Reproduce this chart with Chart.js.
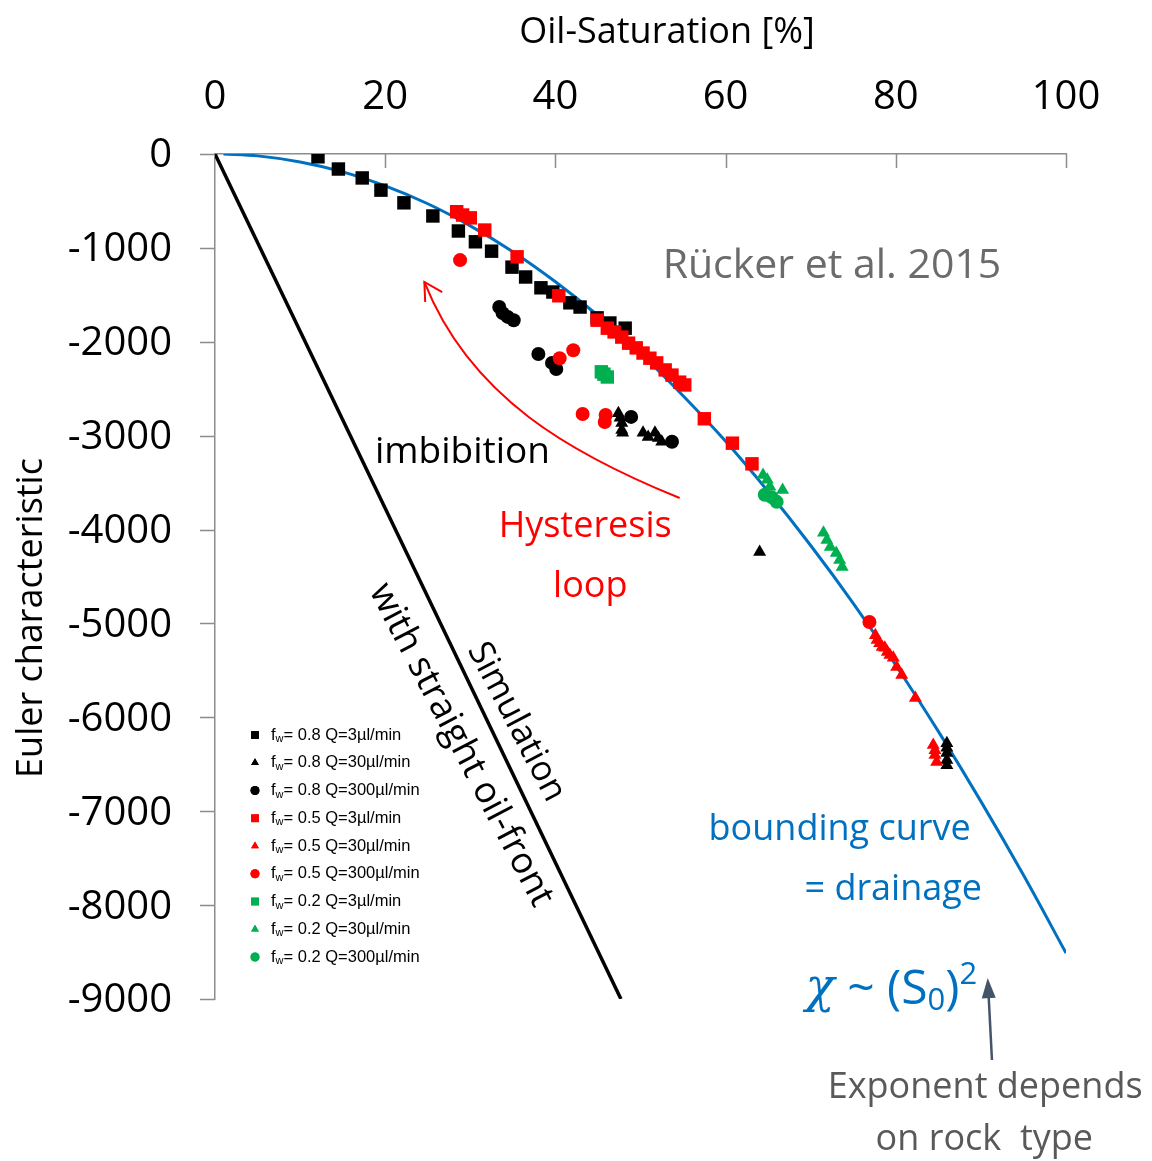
<!DOCTYPE html>
<html>
<head>
<meta charset="utf-8">
<script src="https://cdn.jsdelivr.net/npm/chart.js@4.4.1/dist/chart.umd.min.js"></script>
<style>
  html, body { margin: 0; padding: 0; background: #fff; }
  #wrap { width: 1152px; height: 1161px; position: relative; }
</style>
</head>
<body>
<div id="wrap"><canvas id="chart"></canvas></div>
<script>
// Oil saturation S [%] and Euler characteristic chi for each experiment
// fw = 0.8
const bk3S = [12.1, 14.5, 17.3, 19.5, 22.2, 25.6, 28.6, 30.6, 32.5, 34.9, 36.5, 38.3, 39.7, 41.7, 42.9, 44.9, 46.4, 48.2];
const bk3Chi = [-30, -160, -255, -385, -520, -660, -820, -935, -1035, -1205, -1310, -1425, -1470, -1585, -1630, -1745, -1800, -1855];
const bk30S = [47.4, 47.6, 47.8, 47.8, 47.9, 50.3, 50.9, 51.7, 52.1, 52.5, 64.0, 86.0, 86.0, 86.0, 86.0, 86.0];
const bk30Chi = [-2760, -2810, -2865, -2940, -2970, -2970, -3015, -2970, -3025, -3065, -4240, -6275, -6325, -6380, -6455, -6510];
const bk300S = [33.4, 33.8, 34.4, 35.1, 38.0, 39.6, 40.1, 48.9, 53.7];
const bk300Chi = [-1630, -1695, -1735, -1770, -2130, -2225, -2290, -2800, -3065];
// fw = 0.5
const rd3S = [28.4, 29.1, 30.0, 31.7, 35.5, 40.4, 44.9, 46.1, 46.9, 47.8, 48.6, 49.5, 50.3, 51.1, 51.9, 52.9, 53.7, 54.6, 55.2, 57.5, 60.8, 63.1];
const rd3Chi = [-615, -650, -680, -810, -1095, -1510, -1770, -1855, -1895, -1950, -2015, -2065, -2120, -2175, -2225, -2300, -2355, -2430, -2460, -2820, -3080, -3300];
const rd30S = [77.6, 77.8, 78.1, 78.4, 78.7, 79.0, 79.3, 79.7, 80.1, 80.7, 82.3, 84.4, 84.6, 84.6, 84.8];
const rd30Chi = [-5125, -5175, -5210, -5250, -5260, -5305, -5335, -5365, -5465, -5550, -5795, -6295, -6350, -6400, -6475];
const rd300S = [28.8, 40.5, 42.1, 43.2, 45.9, 45.8, 76.9];
const rd300Chi = [-1130, -2175, -2090, -2770, -2780, -2855, -4985];
// fw = 0.2
const gr3S = [45.4, 45.7, 46.1];
const gr3Chi = [-2320, -2345, -2375];
const gr30S = [64.4, 64.9, 65.2, 66.7, 71.5, 71.9, 72.3, 73.0, 73.4, 73.7];
const gr30Chi = [-3420, -3470, -3545, -3580, -4035, -4110, -4185, -4250, -4325, -4400];
const gr300S = [64.6, 65.4, 66.0];
const gr300Chi = [-3630, -3655, -3705];

// drainage bounding curve
const boundS = [1, 5, 10, 15, 20, 25, 30, 35, 40, 45, 50, 55, 60, 65, 70, 75, 80, 85, 90, 95, 100];
const boundChi = [0, -20, -85, -190, -340, -530, -765, -1040, -1360, -1720, -2125, -2575, -3060, -3595, -4170, -4785, -5445, -6150, -6895, -7680, -8510];

// simulation with straight oil front
const simS = [0, 47.7];
const simChi = [0, -9000];

const fwValues = ['0.8', '0.5', '0.2'];
const flowRates = ['3', '30', '300'];
const xTicks = [0, 20, 40, 60, 80, 100];
const yTicks = [0, -1000, -2000, -3000, -4000, -5000, -6000, -7000, -8000, -9000];

const BLACK = '#000000';
const RED = '#ff0000';
const GREEN = '#00b050';
const BLUE = '#0070c0';
const AXIS = '#8c8c8c';

const zip = (xs, ys) => xs.map((x, i) => ({ x, y: ys[i] }));

const styles = [
  { style: 'rect', radius: 9.5 },
  { style: 'triangle', radius: 7.5 },
  { style: 'circle', radius: 7 },
];

const series = [
  [bk3S, bk3Chi, BLACK], [bk30S, bk30Chi, BLACK], [bk300S, bk300Chi, BLACK],
  [rd3S, rd3Chi, RED], [rd30S, rd30Chi, RED], [rd300S, rd300Chi, RED],
  [gr3S, gr3Chi, GREEN], [gr30S, gr30Chi, GREEN], [gr300S, gr300Chi, GREEN],
];

const scatterSets = series.map(([s, chi, color], i) => {
  const st = styles[i % 3];
  return {
    type: 'scatter',
    label: 'fw= ' + fwValues[Math.floor(i / 3)] + ' Q=' + flowRates[i % 3] + 'µl/min',
    data: zip(s, chi),
    pointStyle: st.style,
    pointRadius: st.radius,
    pointBackgroundColor: color,
    pointBorderWidth: 0,
    borderColor: color,
    backgroundColor: color,
    order: 10 - i,
  };
});

const lineSets = [
  {
    type: 'line',
    label: 'bounding curve',
    data: zip(boundS, boundChi),
    borderColor: BLUE,
    borderWidth: 3,
    pointRadius: 0,
    cubicInterpolationMode: 'monotone',
    order: 20,
  },
  {
    type: 'line',
    label: 'simulation',
    data: zip(simS, simChi),
    borderColor: BLACK,
    borderWidth: 3.5,
    pointRadius: 0,
    order: 21,
  },
];

const FONT = "'Open Sans', sans-serif";

function text(ctx, str, x, y, font, color, align) {
  ctx.font = font;
  ctx.fillStyle = color;
  ctx.textAlign = align || 'center';
  ctx.textBaseline = 'middle';
  ctx.fillText(str, x, y);
}

// axis ticks: x ticks point into the plot, y ticks point outward
const axisTicks = {
  id: 'axisTicks',
  afterDraw(chart) {
    const { ctx } = chart;
    const xs = chart.scales.x, ys = chart.scales.y;
    const top = chart.chartArea.top, left = chart.chartArea.left;
    ctx.save();
    ctx.strokeStyle = AXIS;
    ctx.lineWidth = 1.5;
    ctx.beginPath();
    xTicks.slice(1).forEach((v) => {
      const x = Math.round(xs.getPixelForValue(v)) + 0.5;
      ctx.moveTo(x, top);
      ctx.lineTo(x, top + 14);
    });
    yTicks.forEach((v) => {
      const y = Math.round(ys.getPixelForValue(v)) + 0.5;
      ctx.moveTo(left - 15, y);
      ctx.lineTo(left, y);
    });
    ctx.stroke();
    ctx.restore();
  },
};

const overlay = {
  id: 'overlay',
  afterDraw(chart) {
    const { ctx } = chart;
    const xs = chart.scales.x, ys = chart.scales.y;
    const px = (v) => xs.getPixelForValue(v);
    const py = (v) => ys.getPixelForValue(v);
    ctx.save();

    // axis titles
    text(ctx, 'Oil-Saturation [%]', 667, 33, '36px ' + FONT, '#000');
    ctx.save();
    ctx.translate(32, 618);
    ctx.rotate(-Math.PI / 2);
    text(ctx, 'Euler characteristic', 0, 0, '36px ' + FONT, '#000');
    ctx.restore();

    text(ctx, 'Rücker et al. 2015', px(52.6), py(-1193), '41px ' + FONT, '#6b6b6b', 'left');
    text(ctx, 'imbibition', px(18.8), py(-3174), '37px ' + FONT, '#000', 'left');
    text(ctx, 'Hysteresis', px(43.5), py(-3973), '36px ' + FONT, RED);
    text(ctx, 'loop', px(44.1), py(-4612), '36px ' + FONT, RED);

    // rotated labels along the simulation line
    const ang = 62.5 * Math.PI / 180;
    [['Simulation', 35.4, -6050, 35], ['with straight oil-front', 28.9, -6295, 36.5]].forEach(([s, x, y, size]) => {
      ctx.save();
      ctx.translate(px(x), py(y));
      ctx.rotate(ang);
      text(ctx, s, 0, 0, size + 'px ' + FONT, '#000');
      ctx.restore();
    });

    text(ctx, 'bounding curve', px(73.4), py(-7200), '36px ' + FONT, BLUE);
    text(ctx, '= drainage', px(79.7), py(-7839), '36px ' + FONT, BLUE);

    // chi ~ (S0)^2
    let cx = px(69.4);
    const cy = py(-8904);
    const parts = [
      ['χ', "italic 48px 'DejaVu Serif', serif", 0],
      [' ~ (S', '48px ' + FONT, 0],
      ['0', '31px ' + FONT, 11],
      [')', '48px ' + FONT, 0],
      ['2', '31px ' + FONT, -15],
    ];
    parts.forEach(([s, f, dy]) => {
      text(ctx, s, cx, cy + dy, f, BLUE, 'left');
      cx += ctx.measureText(s).width;
    });

    // note arrow below the formula
    const ax0 = px(91.3), ay0 = py(-9650), ax1 = px(90.8), ay1 = py(-8777);
    const a = Math.atan2(ay1 - ay0, ax1 - ax0);
    ctx.strokeStyle = '#44546a';
    ctx.fillStyle = '#44546a';
    ctx.lineWidth = 2.5;
    ctx.beginPath();
    ctx.moveTo(ax0, ay0);
    ctx.lineTo(ax1 - 18 * Math.cos(a), ay1 - 18 * Math.sin(a));
    ctx.stroke();
    ctx.beginPath();
    ctx.moveTo(ax1, ay1);
    ctx.lineTo(ax1 - 20 * Math.cos(a) + 7 * Math.sin(a), ay1 - 20 * Math.sin(a) - 7 * Math.cos(a));
    ctx.lineTo(ax1 - 20 * Math.cos(a) - 7 * Math.sin(a), ay1 - 20 * Math.sin(a) + 7 * Math.cos(a));
    ctx.closePath();
    ctx.fill();

    text(ctx, 'Exponent depends', px(90.5), py(-9948), '36px ' + FONT, '#595959');
    text(ctx, 'on rock  type', px(90.4), py(-10502), '36px ' + FONT, '#595959');

    // hysteresis arrow
    ctx.strokeStyle = RED;
    ctx.lineWidth = 2;
    ctx.beginPath();
    ctx.moveTo(px(54.6), py(-3664));
    ctx.bezierCurveTo(px(42.0), py(-3200), px(30.0), py(-2600), px(24.6), py(-1363));
    ctx.stroke();
    ctx.beginPath();
    ctx.moveTo(px(24.7), py(-1576));
    ctx.lineTo(px(24.6), py(-1363));
    ctx.lineTo(px(26.7), py(-1470));
    ctx.stroke();

    // legend
    const lx = 255, ly0 = 735, step = 27.75;
    const legendRadius = [5.5, 4.5, 4.5];
    const f = "16.5px 'Liberation Sans', Arial, sans-serif";
    const fs = "11px 'Liberation Sans', Arial, sans-serif";
    scatterSets.forEach((ds, i) => {
      const y = ly0 + i * step;
      ctx.fillStyle = ds.pointBackgroundColor;
      Chart.helpers.drawPoint(ctx, { pointStyle: ds.pointStyle, radius: legendRadius[i % 3], borderWidth: 0 }, lx, y);
      ctx.fill();
      let tx = 271;
      text(ctx, 'f', tx, y, f, '#000', 'left');
      tx += ctx.measureText('f').width;
      text(ctx, 'w', tx, y + 4, fs, '#000', 'left');
      tx += ctx.measureText('w').width;
      text(ctx, '= ' + fwValues[Math.floor(i / 3)] + ' Q=' + flowRates[i % 3] + 'µl/min', tx, y, f, '#000', 'left');
    });

    ctx.restore();
  },
};

new Chart(document.getElementById('chart'), {
  data: { datasets: [...scatterSets, ...lineSets] },
  plugins: [axisTicks, overlay],
  options: {
    responsive: true,
    maintainAspectRatio: false,
    animation: false,
    layout: { padding: { left: 0, top: 0, right: 86, bottom: 162 } },
    plugins: {
      legend: { display: false },
      tooltip: { enabled: false },
    },
    scales: {
      x: {
        type: 'linear',
        position: 'top',
        min: 0,
        max: 100,
        afterBuildTicks: (scale) => { scale.ticks = xTicks.map((v) => ({ value: v })); },
        afterFit: (scale) => { scale.height = 154; },
        grid: { display: false, drawTicks: false },
        border: { display: true, color: AXIS, width: 1.5 },
        ticks: { color: '#000', font: { family: FONT, size: 40 }, padding: 32, callback: (v) => String(v) },
      },
      y: {
        type: 'linear',
        min: -9000,
        max: 0,
        afterBuildTicks: (scale) => { scale.ticks = yTicks.map((v) => ({ value: v })); },
        afterFit: (scale) => { scale.width = 215; },
        grid: { display: false, drawTicks: false },
        border: { display: true, color: AXIS, width: 1.5 },
        ticks: { color: '#000', font: { family: FONT, size: 40 }, padding: 43, labelOffset: 2, callback: (v) => String(v) },
      },
    },
  },
});
</script>
</body>
</html>
